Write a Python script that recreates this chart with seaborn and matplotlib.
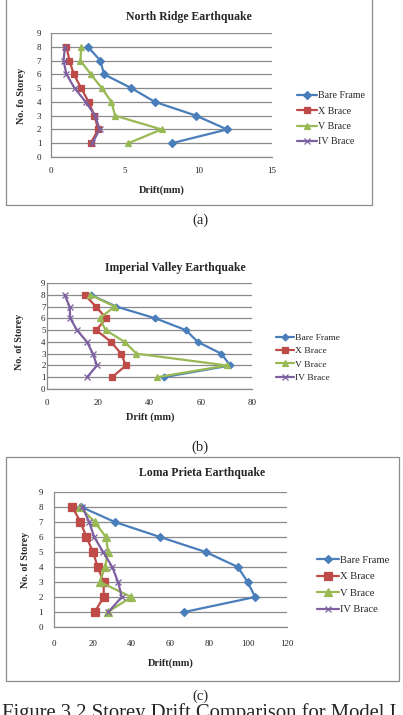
import numpy as np
import pandas as pd
import matplotlib
matplotlib.use("Agg")
import matplotlib.pyplot as plt
from matplotlib.patches import Rectangle
import seaborn as sns

# данные: этажи и перемещения (мм)
storeys = [1, 2, 3, 4, 5, 6, 7, 8]
systems = ['Bare Frame', 'X Brace', 'V Brace', 'IV Brace']

north_bare = [8.2, 11.95, 9.85, 7.05, 5.45, 3.6, 3.35, 2.5]
north_x = [2.7, 3.2, 2.95, 2.55, 2.05, 1.55, 1.25, 1.05]
north_v = [5.25, 7.5, 4.35, 4.1, 3.45, 2.7, 2.0, 2.05]
north_iv = [2.8, 3.3, 3.0, 2.35, 1.6, 1.05, 0.85, 0.95]

imperial_bare = [45.5, 71.5, 68.0, 58.8, 54.2, 42.3, 27.0, 17.0]
imperial_x = [25.4, 30.8, 28.9, 25.0, 19.2, 23.1, 19.1, 14.7]
imperial_v = [43.0, 70.2, 34.9, 30.3, 22.9, 20.5, 26.4, 16.9]
imperial_iv = [15.6, 19.5, 17.9, 15.6, 11.7, 9.1, 8.8, 6.9]

loma_bare = [67.1, 103.6, 99.7, 94.7, 78.1, 54.6, 31.3, 14.1]
loma_x = [21.0, 25.6, 25.6, 22.5, 20.1, 16.7, 13.6, 9.5]
loma_v = [27.7, 39.9, 23.6, 26.2, 27.9, 26.7, 21.0, 13.3]
loma_iv = [28.0, 34.9, 33.0, 30.0, 25.3, 20.7, 18.1, 14.6]

palette = {'Bare Frame': '#4A7EBB', 'X Brace': '#BE4B48', 'V Brace': '#98B954', 'IV Brace': '#7D60A0'}
markers = {'Bare Frame': 'D', 'X Brace': 's', 'V Brace': '^', 'IV Brace': 'x'}

def long_df(series):
    rows = []
    for name, vals in zip(systems, series):
        for s, v in zip(storeys, vals):
            rows.append({'Система': name, 'Этаж': s, 'Drift': v})
    return pd.DataFrame(rows)

sns.set_style('white')
plt.rcParams['font.family'] = ['Liberation Serif', 'DejaVu Serif']

W, H = 403, 715
fig = plt.figure(figsize=(W / 100, H / 100), dpi=100)

def px_axes(x0, x1, ytop, ybot):
    return fig.add_axes([x0 / W, 1 - ybot / H, (x1 - x0) / W, (ybot - ytop) / H])

panels = [
    dict(data=[north_bare, north_x, north_v, north_iv], box=(51, 272, 33, 157),
         title='North Ridge Earthquake', tpos=(189, 17), ylab='No. fo Storey', ylpos=(22, 96),
         xlab='Drift(mm)', xlpos=(162, 190), xmax=15, xstep=5,
         leg=(292, 86), lfs=7.2, lsp=0.65, hl=2.0, ms=(3.8, 5.0, 5.0, 4.5),
         ypad=7, xpad=7),
    dict(data=[imperial_bare, imperial_x, imperial_v, imperial_iv], box=(47, 252, 283, 389),
         title='Imperial Valley Earthquake', tpos=(175, 268), ylab='No. of Storey', ylpos=(20, 342),
         xlab='Drift (mm)', xlpos=(150, 417), xmax=80, xstep=20,
         leg=(271, 328.5), lfs=6.8, lsp=0.5, hl=1.9, ms=(3.5, 5.0, 4.8, 4.5),
         ypad=1, xpad=7),
    dict(data=[loma_bare, loma_x, loma_v, loma_iv], box=(54, 287, 492, 627),
         title='Loma Prieta Earthquake', tpos=(202, 473), ylab='No. of Storey', ylpos=(26, 560),
         xlab='Drift(mm)', xlpos=(171, 663), xmax=120, xstep=20,
         leg=(312, 550), lfs=7.6, lsp=0.68, hl=2.1, ms=(4.0, 6.3, 5.8, 5.0),
         ypad=8, xpad=9),
]

for p in panels:
    ax = px_axes(*p['box'])
    df = long_df(p['data'])
    for name, ms in zip(systems, p['ms']):
        sub = df[df['Система'] == name]
        sns.lineplot(data=sub, x='Drift', y='Этаж', orient='y', estimator=None,
                     color=palette[name], marker=markers[name], markersize=ms, linewidth=1.6,
                     markeredgewidth=0.9, markeredgecolor=palette[name], label=name, ax=ax)
    ax.set_xlim(0, p['xmax'])
    ax.set_ylim(0, 9)
    ax.set_xticks(np.arange(0, p['xmax'] + 1, p['xstep']))
    ax.set_yticks(range(0, 10))
    ax.yaxis.grid(True, color='#8a8a8a', linewidth=0.9)
    ax.set_axisbelow(True)
    for side in ['top', 'right']:
        ax.spines[side].set_visible(False)
    for side in ['left', 'bottom']:
        ax.spines[side].set_color('#8a8a8a')
        ax.spines[side].set_linewidth(0.9)
    ax.tick_params(labelsize=6.5, length=0, colors='#222222')
    ax.tick_params(axis='y', pad=p['ypad'])
    ax.tick_params(axis='x', pad=p['xpad'])
    ax.set_xlabel('')
    ax.set_ylabel('')
    h, l = ax.get_legend_handles_labels()
    ax.legend(h, l, loc='upper left', bbox_to_anchor=(p['leg'][0] / W, 1 - p['leg'][1] / H),
              bbox_transform=fig.transFigure, frameon=False, fontsize=p['lfs'],
              handlelength=p['hl'], handletextpad=0.1, labelspacing=p['lsp'], borderpad=0)
    fig.text(p['tpos'][0] / W, 1 - p['tpos'][1] / H, p['title'], ha='center', va='center',
             fontsize=8.5, fontweight='bold')
    fig.text(p['ylpos'][0] / W, 1 - p['ylpos'][1] / H, p['ylab'], ha='center', va='center',
             rotation=90, fontsize=7.2, fontweight='bold')
    fig.text(p['xlpos'][0] / W, 1 - p['xlpos'][1] / H, p['xlab'], ha='center', va='center',
             fontsize=7.5, fontweight='bold')

# рамки вокруг (a) и (c)
for x0, x1, y0, y1 in [(6, 372, -2, 205), (6, 399, 457, 681)]:
    fig.patches.append(Rectangle((x0 / W, 1 - y1 / H), (x1 - x0) / W, (y1 - y0) / H,
                                 transform=fig.transFigure, fill=False,
                                 edgecolor='#8c8c8c', linewidth=0.9))

for txt, x, y in [('(a)', 200, 220), ('(b)', 200, 447), ('(c)', 200, 696)]:
    fig.text(x / W, 1 - y / H, txt, ha='center', va='center', fontsize=10.5)

fig.text(2 / W, 1 - 703 / H, 'Figure 3.2 Storey Drift Comparison for Model I',
         ha='left', va='top', fontsize=14.9)

fig.savefig('out.png', dpi=100)
